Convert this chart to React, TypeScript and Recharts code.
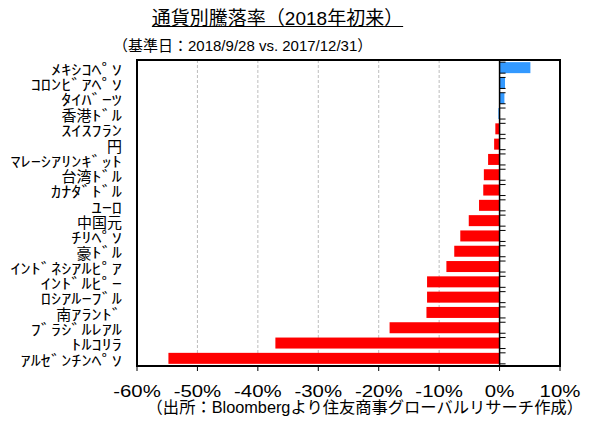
import { BarChart, Bar, XAxis, YAxis, CartesianGrid, ReferenceLine, ReferenceArea, Cell } from 'recharts'

const currencies = [
  'ﾒｷｼｺﾍﾟｿ', 'ｺﾛﾝﾋﾞｱﾍﾟｿ', 'ﾀｲﾊﾞｰﾂ', '香港ﾄﾞﾙ', 'ｽｲｽﾌﾗﾝ', '円', 'ﾏﾚｰｼｱﾘﾝｷﾞｯﾄ',
  '台湾ﾄﾞﾙ', 'ｶﾅﾀﾞﾄﾞﾙ', 'ﾕｰﾛ', '中国元', 'ﾁﾘﾍﾟｿ', '豪ﾄﾞﾙ', 'ｲﾝﾄﾞﾈｼｱﾙﾋﾟｱ',
  'ｲﾝﾄﾞﾙﾋﾟｰ', 'ﾛｼｱﾙｰﾌﾞﾙ', '南ｱﾗﾝﾄﾞ', 'ﾌﾞﾗｼﾞﾙﾚｱﾙ', 'ﾄﾙｺﾘﾗ', 'ｱﾙｾﾞﾝﾁﾝﾍﾟｿ',
]
// % change since start of 2018
const changes = [
  5.1, 0.9, 0.8, -0.2, -0.7, -0.9, -1.9, -2.6, -2.7, -3.4, -5.1, -6.5, -7.5, -8.8,
  -12.0, -12.0, -12.1, -18.2, -37.1, -54.8,
]
const xTicks = [-60, -50, -40, -30, -20, -10, 0, 10]

const title = '通貨別騰落率（2018年初来）'
const subtitle = '（基準日：2018/9/28 vs. 2017/12/31）'
const source = '（出所：Bloombergより住友商事グローバルリサーチ作成）'

const data = currencies.map((name, i) => ({ name, value: changes[i] }))

const FONT = '"Liberation Sans", Arial, "Noto Sans CJK JP", sans-serif'
const JP = '"Noto Sans CJK JP", sans-serif'

// split label in runs of half-width kana vs the rest, so kana can be stretched like the original
function runs(s: string) {
  const out: { half: boolean; text: string }[] = []
  for (const ch of s) {
    const c = ch.charCodeAt(0)
    const half = c >= 0xff61 && c <= 0xff9f
    const last = out[out.length - 1]
    if (last && last.half === half) last.text += ch
    else out.push({ half, text: ch })
  }
  return out
}

function CategoryTick({ x, y, payload }: any) {
  const fs = 14.5
  const kanjiFs = 15
  const sx = 1.4
  let cx = x
  const parts = runs(String(payload.value)).reverse()
  return (
    <g>
      {parts.map((p, i) => {
        const w = p.half ? p.text.length * fs * 0.5 * sx : p.text.length * kanjiFs
        const node = (
          <text
            key={i}
            transform={`translate(${cx},${y + 1}) scale(${p.half ? sx : 1},1)`}
            textAnchor="end"
            dominantBaseline="central"
            fontSize={p.half ? fs : kanjiFs}
            fontFamily={JP}
            fill="#000"
          >
            {p.text}
          </text>
        )
        cx -= w
        return node
      })}
    </g>
  )
}

function PercentTick({ x, y, payload }: any) {
  return (
    <text
      transform={`translate(${x},${y}) scale(1.2,1)`}
      textAnchor="middle"
      dy="0.71em"
      fontSize={17}
      fontFamily={FONT}
      fill="#000"
    >
      {`${payload.value}%`}
    </text>
  )
}

// bar plus the short category tick marks that sit on the zero line
function BarWithTicks(props: any) {
  const { x, y, width, height, fill, background, payload } = props
  const left = Math.min(x, x + width)
  const w = Math.abs(width)
  const zeroX = width < 0 ? x : payload?.value < 0 ? x + width : x
  return (
    <g>
      <rect x={left} y={y} width={w} height={height} fill={fill} />
      {background && (
        <>
          <line x1={zeroX} x2={zeroX + 6} y1={background.y} y2={background.y} stroke="#000" strokeWidth={1} />
          <line
            x1={zeroX}
            x2={zeroX + 6}
            y1={background.y + background.height}
            y2={background.y + background.height}
            stroke="#000"
            strokeWidth={1}
          />
        </>
      )}
    </g>
  )
}

export default function App() {
  return (
    <div style={{ position: 'absolute', left: 0, top: 0, width: 597, height: 421, background: '#fff', fontFamily: FONT }}>
      <div
        style={{
          position: 'absolute', left: 0, top: 8, width: 555, textAlign: 'center',
          fontSize: 19, lineHeight: '22px', textDecoration: 'underline', color: '#000',
        }}
      >
        {title}
      </div>
      <div style={{ position: 'absolute', left: 113, top: 37, fontSize: 15, lineHeight: '18px', color: '#000' }}>
        {subtitle}
      </div>
      <div style={{ position: 'absolute', right: 14, top: 398, fontSize: 16.3, lineHeight: '18px', color: '#000', whiteSpace: 'nowrap' }}>
        {source}
      </div>
      <div style={{ position: 'absolute', left: 0, top: 0 }}>
        <BarChart
          width={597}
          height={421}
          data={data}
          layout="vertical"
          margin={{ top: 60, right: 37, bottom: 25, left: 0 }}
          barCategoryGap="14%"
        >
          <CartesianGrid horizontal={false} strokeDasharray="3 2" stroke="#bdbdbd" />
          <XAxis
            type="number"
            domain={[-60, 10]}
            ticks={xTicks}
            height={30}
            tick={<PercentTick />}
            tickSize={5}
            tickMargin={14}
            tickLine={{ stroke: '#000' }}
            axisLine={{ stroke: '#000', strokeWidth: 2 }}
            interval={0}
          />
          <YAxis
            type="category"
            dataKey="name"
            width={137}
            tick={<CategoryTick />}
            tickLine={false}
            axisLine={false}
            tickMargin={9}
            interval={0}
          />
          <ReferenceArea x1={-60} x2={10} fill="none" stroke="#000" strokeWidth={2} />
          <Bar dataKey="value" shape={<BarWithTicks />} isAnimationActive={false}>
            {data.map((d, i) => (
              // the first four (incl. the pegged HKD) are shown in blue in the original
              <Cell key={d.name} fill={i < 4 ? '#3399ff' : '#ff0000'} />
            ))}
          </Bar>
          <ReferenceLine x={0} stroke="#000" strokeWidth={1.5} />
        </BarChart>
      </div>
    </div>
  )
}
